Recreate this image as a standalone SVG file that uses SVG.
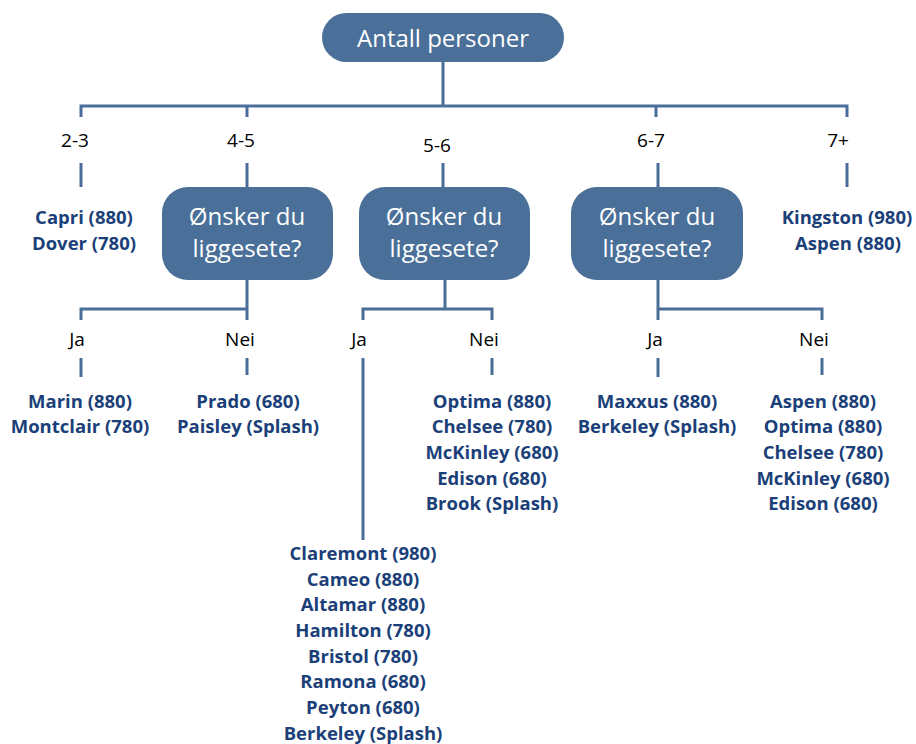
<svg xmlns="http://www.w3.org/2000/svg" width="916" height="744" viewBox="0 0 916 744">
<style>
.box{fill:#4a6f98;}
.ln{stroke:#4b6e99;stroke-width:3;fill:none;}
.bt{font-family:"Open Sans","Noto Sans",sans-serif;font-size:24px;fill:#ffffff;text-anchor:middle;}
.lb{font-family:"Open Sans","Noto Sans",sans-serif;font-size:19px;fill:#000000;text-anchor:middle;}
.it{font-family:"Open Sans","Noto Sans",sans-serif;font-size:18.5px;font-weight:bold;fill:#1b3f78;text-anchor:middle;}
</style>
<rect width="916" height="744" fill="#ffffff"/>
<g id="connectors">
<path class="ln" d="M443,62 V106 M81,117 V106 H847 V117 M247,106 V117 M656,106 V117"/>
<path class="ln" d="M81,163 V187 M247,163 V187 M443,163 V187 M658,163 V187 M847,163 V187"/>
<path class="ln" d="M247,280 V309 H81 V320 M247,309 V320"/>
<path class="ln" d="M81,358 V377 M247,358 V375"/>
<path class="ln" d="M445,280 V309 H363 V320 M445,309 H492 V320"/>
<path class="ln" d="M363,358 V540 M492,358 V375"/>
<path class="ln" d="M658,280 V320 M658,309 H822 V320"/>
<path class="ln" d="M658,358 V377 M822,358 V375"/>
</g>
<g id="root">
<rect class="box" x="322" y="13" width="242" height="49" rx="24.5"/>
<text class="bt" x="443" y="47">Antall personer</text>
</g>
<g id="labels-top">
<text class="lb" x="75" y="147">2-3</text>
<text class="lb" x="241" y="147">4-5</text>
<text class="lb" x="437" y="152">5-6</text>
<text class="lb" x="651" y="147">6-7</text>
<text class="lb" x="838" y="147">7+</text>
</g>
<g id="q1">
<rect class="box" x="162" y="187" width="171" height="93" rx="26"/>
<text class="bt" x="247" y="225">Ønsker du</text>
<text class="bt" x="247" y="257">liggesete?</text>
</g>
<g id="q2">
<rect class="box" x="359" y="187" width="171" height="93" rx="26"/>
<text class="bt" x="444" y="225">Ønsker du</text>
<text class="bt" x="444" y="257">liggesete?</text>
</g>
<g id="q3">
<rect class="box" x="571" y="187" width="172" height="93" rx="26"/>
<text class="bt" x="657" y="225">Ønsker du</text>
<text class="bt" x="657" y="257">liggesete?</text>
</g>
<g id="r23">
<text class="it" x="84" y="224">Capri (880)</text>
<text class="it" x="84" y="250">Dover (780)</text>
</g>
<g id="r7">
<text class="it" x="847" y="224">Kingston (980)</text>
<text class="it" x="848" y="250">Aspen (880)</text>
</g>
<g id="labels-yn">
<text class="lb" x="77" y="346">Ja</text>
<text class="lb" x="240" y="346">Nei</text>
<text class="lb" x="359" y="346">Ja</text>
<text class="lb" x="484" y="346">Nei</text>
<text class="lb" x="655" y="346">Ja</text>
<text class="lb" x="814" y="346">Nei</text>
</g>
<g id="r45ja">
<text class="it" x="80" y="408">Marin (880)</text>
<text class="it" x="80" y="433">Montclair (780)</text>
</g>
<g id="r45nei">
<text class="it" x="248" y="408">Prado (680)</text>
<text class="it" x="248" y="433">Paisley (Splash)</text>
</g>
<g id="r56nei">
<text class="it" x="492" y="408">Optima (880)</text>
<text class="it" x="492" y="433">Chelsee (780)</text>
<text class="it" x="492" y="459">McKinley (680)</text>
<text class="it" x="492" y="485">Edison (680)</text>
<text class="it" x="492" y="510">Brook (Splash)</text>
</g>
<g id="r56ja">
<text class="it" x="363" y="560">Claremont (980)</text>
<text class="it" x="363" y="586">Cameo (880)</text>
<text class="it" x="363" y="611">Altamar (880)</text>
<text class="it" x="363" y="637">Hamilton (780)</text>
<text class="it" x="363" y="663">Bristol (780)</text>
<text class="it" x="363" y="688">Ramona (680)</text>
<text class="it" x="363" y="714">Peyton (680)</text>
<text class="it" x="363" y="740">Berkeley (Splash)</text>
</g>
<g id="r67ja">
<text class="it" x="657" y="408">Maxxus (880)</text>
<text class="it" x="657" y="433">Berkeley (Splash)</text>
</g>
<g id="r67nei">
<text class="it" x="823" y="408">Aspen (880)</text>
<text class="it" x="823" y="433">Optima (880)</text>
<text class="it" x="823" y="459">Chelsee (780)</text>
<text class="it" x="823" y="485">McKinley (680)</text>
<text class="it" x="823" y="510">Edison (680)</text>
</g>
</svg>
